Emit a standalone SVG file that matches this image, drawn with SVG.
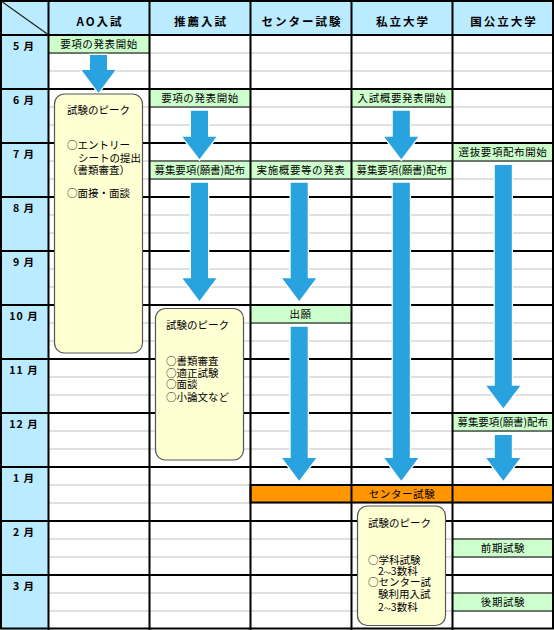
<svg xmlns="http://www.w3.org/2000/svg" width="554" height="630" viewBox="0 0 554 630">
<style>
text{font-family:"Noto Sans CJK JP","Noto Sans",sans-serif;fill:#000}
.hd{font-size:11.5px;font-weight:bold;letter-spacing:2px;text-anchor:middle}
.mo{font-size:10.5px;font-weight:bold;letter-spacing:1px;text-anchor:middle}
.cl{font-size:10.5px;letter-spacing:0.6px;text-anchor:middle}
.bx{font-size:10.5px}
.gl{stroke:#c0c0c0;stroke-width:1}
.bl{stroke:#000;stroke-width:2}
.green{fill:#ccffcc;stroke:#000;stroke-width:1}
.arrow{fill:#29a2e0;stroke:#fff;stroke-width:2.5;paint-order:stroke}
.box{fill:#ffffd4;stroke:#555;stroke-width:1.2}
</style>
<rect x="0" y="0" width="554" height="630" fill="#fff"/>
<g id="grid">
<rect x="0" y="0" width="48.5" height="630" fill="#bbebff"/>
<rect x="48.5" y="0" width="505.5" height="35" fill="#bbebff"/>
<g class="gl">
<line x1="49" x2="553" y1="53" y2="53"/><line x1="49" x2="553" y1="71" y2="71"/>
<line x1="49" x2="553" y1="107" y2="107"/><line x1="49" x2="553" y1="125" y2="125"/>
<line x1="49" x2="553" y1="161" y2="161"/><line x1="49" x2="553" y1="179" y2="179"/>
<line x1="49" x2="553" y1="215" y2="215"/><line x1="49" x2="553" y1="233" y2="233"/>
<line x1="49" x2="553" y1="269" y2="269"/><line x1="49" x2="553" y1="287" y2="287"/>
<line x1="49" x2="553" y1="323" y2="323"/><line x1="49" x2="553" y1="341" y2="341"/>
<line x1="49" x2="553" y1="377" y2="377"/><line x1="49" x2="553" y1="395" y2="395"/>
<line x1="49" x2="553" y1="431" y2="431"/><line x1="49" x2="553" y1="449" y2="449"/>
<line x1="49" x2="553" y1="485" y2="485"/><line x1="49" x2="553" y1="503" y2="503"/>
<line x1="49" x2="553" y1="539" y2="539"/><line x1="49" x2="553" y1="557" y2="557"/>
<line x1="49" x2="553" y1="593" y2="593"/><line x1="49" x2="553" y1="611" y2="611"/>
</g>
</g>
<g id="cells">
<rect id="c1" class="green" x="48.5" y="35" width="101" height="18"/>
<rect id="c2" class="green" x="149.5" y="89" width="101" height="18"/>
<rect id="c3" class="green" x="149.5" y="161" width="101" height="18"/>
<rect id="c4" class="green" x="250.5" y="161" width="101" height="18"/>
<rect id="c5" class="green" x="351.5" y="89" width="101" height="18"/>
<rect id="c6" class="green" x="351.5" y="161" width="101" height="18"/>
<rect id="c7" class="green" x="452.5" y="143" width="100.5" height="18"/>
<rect id="c8" class="green" x="250.5" y="305" width="101" height="18"/>
<rect id="c9" class="green" x="452.5" y="413" width="100.5" height="18"/>
<rect id="c10" class="green" x="452.5" y="539" width="100.5" height="18"/>
<rect id="c11" class="green" x="452.5" y="593" width="100.5" height="18"/>
<rect id="center-exam" x="250.5" y="485" width="302.5" height="17.5" fill="#ff9600" stroke="#000" stroke-width="2"/>
</g>
<g id="lines" class="bl">
<line x1="0" x2="554" y1="35" y2="35"/>
<line x1="0" x2="554" y1="89" y2="89"/>
<line x1="0" x2="554" y1="143" y2="143"/>
<line x1="0" x2="554" y1="197" y2="197"/>
<line x1="0" x2="554" y1="251" y2="251"/>
<line x1="0" x2="554" y1="305" y2="305"/>
<line x1="0" x2="554" y1="359" y2="359"/>
<line x1="0" x2="554" y1="413" y2="413"/>
<line x1="0" x2="554" y1="467" y2="467"/>
<line x1="0" x2="554" y1="521" y2="521"/>
<line x1="0" x2="554" y1="575" y2="575"/>
<line x1="48.5" x2="48.5" y1="0" y2="630"/>
<line x1="149.5" x2="149.5" y1="0" y2="630"/>
<line x1="250.5" x2="250.5" y1="0" y2="630"/>
<line x1="351.5" x2="351.5" y1="0" y2="630"/>
<line x1="452.5" x2="452.5" y1="0" y2="630"/>
<rect x="1" y="1" width="552" height="627.5" fill="none"/>
<line x1="1" y1="1" x2="48" y2="34.5" stroke="#222" stroke-width="1.2"/>
</g>
<g id="connectors">
<path class="arrow" d="M90,55 H107 V70 H115.5 L98.5,92.7 L81.5,70 H90 Z"/>
<path class="arrow" d="M191,110.7 H208 V136.7 H216.5 L199.5,159.3 L182.5,136.7 H191 Z"/>
<path class="arrow" d="M191,182.7 H208 V278.3 H216.5 L199.5,301 L182.5,278.3 H191 Z"/>
<path class="arrow" d="M290.7,182.7 H307.7 V278.3 H316.2 L299.2,301 L282.2,278.3 H290.7 Z"/>
<path class="arrow" d="M290.7,326.7 H307.7 V458 H316.2 L299.2,480.7 L282.2,458 H290.7 Z"/>
<path class="arrow" d="M392.8,110.7 H409.8 V136.7 H418.3 L401.3,159.3 L384.3,136.7 H392.8 Z"/>
<path class="arrow" d="M392.8,182.7 H409.8 V458 H418.3 L401.3,480.7 L384.3,458 H392.8 Z"/>
<path class="arrow" d="M494.8,165 H511.8 V385.7 H520.3 L503.3,408.3 L486.3,385.7 H494.8 Z"/>
<path class="arrow" d="M494.8,435 H511.8 V458 H520.3 L503.3,480.7 L486.3,458 H494.8 Z"/>
</g>
<g id="header">
<text class="hd" x="100" y="26">AO入試</text>
<text class="hd" x="201" y="26">推薦入試</text>
<text class="hd" x="302" y="26">センター試験</text>
<text class="hd" x="403" y="26">私立大学</text>
<text class="hd" x="504" y="26">国公立大学</text>
</g>
<g id="months">
<text class="mo" x="24" y="49.5">5 月</text>
<text class="mo" x="24" y="103.5">6 月</text>
<text class="mo" x="24" y="157.5">7 月</text>
<text class="mo" x="24" y="211.5">8 月</text>
<text class="mo" x="24" y="265.5">9 月</text>
<text class="mo" x="24" y="319.5">10 月</text>
<text class="mo" x="24" y="373.5">11 月</text>
<text class="mo" x="24" y="427.5">12 月</text>
<text class="mo" x="24" y="481.5">1 月</text>
<text class="mo" x="24" y="535.5">2 月</text>
<text class="mo" x="24" y="589.5">3 月</text>
</g>
<g id="labels">
<text class="cl" x="99" y="48">要項の発表開始</text>
<text class="cl" x="200" y="102">要項の発表開始</text>
<text class="cl" x="200" y="174" textLength="91">募集要項(願書)配布</text>
<text class="cl" x="301" y="174">実施概要等の発表</text>
<text class="cl" x="402" y="102">入試概要発表開始</text>
<text class="cl" x="402" y="174" textLength="91">募集要項(願書)配布</text>
<text class="cl" x="503" y="156">選抜要項配布開始</text>
<text class="cl" x="300.5" y="318">出願</text>
<text class="cl" x="503" y="426" textLength="91">募集要項(願書)配布</text>
<text class="cl" x="402" y="498">センター試験</text>
<text class="cl" x="503" y="552">前期試験</text>
<text class="cl" x="503" y="606">後期試験</text>
</g>
<g id="box-ao">
<rect class="box" x="54.5" y="94" width="88" height="259" rx="10"/>
<text class="bx" x="67" y="113.5">試験のピーク</text>
<text class="bx" x="67" y="149">○エントリー</text>
<text class="bx" x="78" y="162">シートの提出</text>
<text class="bx" x="67" y="173.5">（書類審査）</text>
<text class="bx" x="67" y="197">○面接・面談</text>
</g>
<g id="box-suisen">
<rect class="box" x="155.5" y="308.5" width="88" height="151.5" rx="10"/>
<text class="bx" x="166" y="329">試験のピーク</text>
<text class="bx" x="166" y="365">○書類審査</text>
<text class="bx" x="166" y="376.5">○適正試験</text>
<text class="bx" x="166" y="388">○面談</text>
<text class="bx" x="166" y="400.5">○小論文など</text>
</g>
<g id="box-shiritsu">
<rect class="box" x="357.5" y="506" width="88" height="119.5" rx="10"/>
<text class="bx" x="368" y="527">試験のピーク</text>
<text class="bx" x="368" y="563.5">○学科試験</text>
<text class="bx" x="378" y="574.5">2<tspan font-size="7">～</tspan>3数科</text>
<text class="bx" x="368" y="586">○センター試</text>
<text class="bx" x="378" y="598">験利用入試</text>
<text class="bx" x="378" y="610.5">2<tspan font-size="7">～</tspan>3数科</text>
</g>
</svg>
